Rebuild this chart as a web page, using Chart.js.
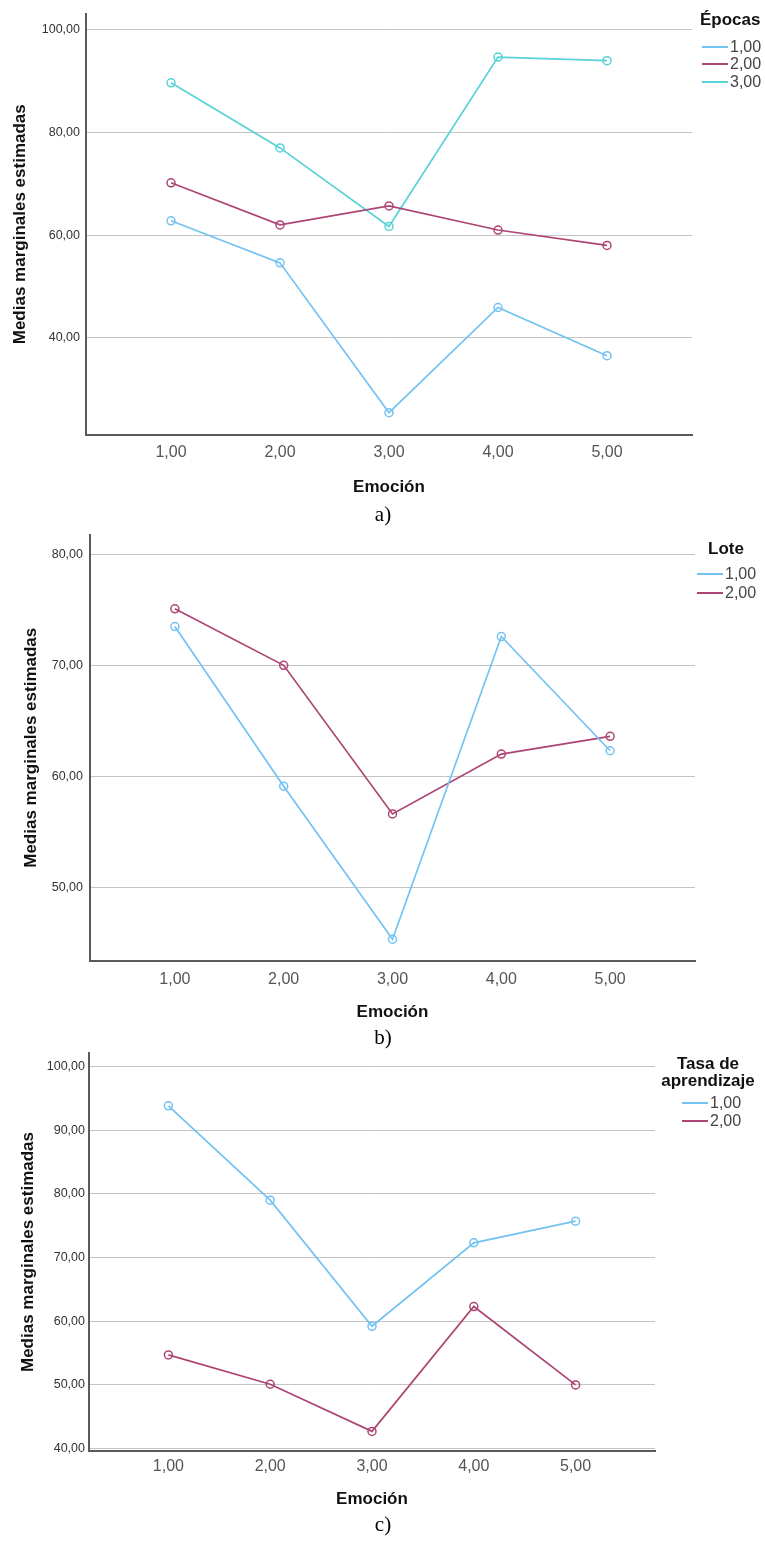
<!DOCTYPE html>
<html>
<head>
<meta charset="utf-8">
<script src="https://cdn.jsdelivr.net/npm/chart.js@4.4.1/dist/chart.umd.min.js"></script>
<style>
    body { margin: 0; background: #fff; width: 765px; height: 1542px; position: relative; overflow: hidden; }
    canvas { position: absolute; left: 0; }
    .legend { position: absolute; font-family: 'Liberation Sans', Arial, sans-serif; color: #444; }
    .legend-title { position: absolute; font-weight: bold; font-size: 17px; color: #111; white-space: nowrap; line-height: 17px; }
    .legend-item { position: absolute; font-size: 16px; white-space: nowrap; line-height: 16px; height: 16px; }
    .legend-line { display: inline-block; width: 26px; height: 2px; vertical-align: middle; margin-right: 2px; position: relative; top: -1px; }
    .caption { position: absolute; font-family: 'Liberation Serif', 'Times New Roman', serif; font-size: 21px; color: #000; width: 40px; margin-left: -20px; text-align: center; }
</style>
</head>
<body>
<canvas id="chartA" width="765" height="505" style="top:0px"></canvas>
<canvas id="chartB" width="765" height="505" style="top:520px"></canvas>
<canvas id="chartC" width="765" height="475" style="top:1040px"></canvas>
<div id="legends"></div>
<div class="caption" style="left:383px; top:502px">a)</div>
<div class="caption" style="left:383px; top:1025px">b)</div>
<div class="caption" style="left:383px; top:1512px">c)</div>

<script>
// Emoción categories (x axis)
var emociones = [1, 2, 3, 4, 5];

// a) Épocas
var epocas1 = [62.8, 54.6, 25.4, 45.9, 36.5];
var epocas2 = [70.2, 62.0, 65.7, 61.0, 58.0];
var epocas3 = [89.7, 77.0, 61.7, 94.7, 94.0];
var yTicksA = [40, 60, 80, 100];

// b) Lote
var lote1 = [73.5, 59.1, 45.3, 72.6, 62.3];
var lote2 = [75.1, 70.0, 56.6, 62.0, 63.6];
var yTicksB = [50, 60, 70, 80];

// c) Tasa de aprendizaje
var tasa1 = [93.8, 79.0, 59.2, 72.3, 75.7];
var tasa2 = [54.7, 50.1, 42.7, 62.3, 50.0];
var yTicksC = [40, 50, 60, 70, 80, 90, 100];

var seriesLabels = ['1,00', '2,00', '3,00'];

// SPSS-like colours
var azul = '#72c2f2';
var granate = '#ad4574';
var cian = '#56d3d8';

function fmt(v) {
    return v.toFixed(2).replace('.', ',');
}

function makeDataset(label, values, color) {
    return {
        label: label,
        data: emociones.map(function (x, i) { return { x: x, y: values[i] }; }),
        borderColor: color,
        borderWidth: 1.7,
        pointRadius: 4,
        pointBorderWidth: 1.5,
        pointBorderColor: color,
        pointBackgroundColor: 'rgba(255,255,255,0)',
        tension: 0
    };
}

// Build one SPSS style profile plot; o holds the layout of that panel
function buildChart(id, datasets, o) {
    var canvas = document.getElementById(id);
    return new Chart(canvas.getContext('2d'), {
        type: 'line',
        data: { datasets: datasets },
        options: {
            responsive: false,
            animation: false,
            layout: { padding: { top: o.padTop, right: o.padRight, left: 0, bottom: 0 } },
            plugins: { legend: { display: false }, tooltip: { enabled: false } },
            scales: {
                x: {
                    type: 'linear',
                    min: 0.22,
                    max: 5.78,
                    afterBuildTicks: function (scale) {
                        scale.ticks = emociones.map(function (v) { return { value: v }; });
                    },
                    afterFit: function (scale) { scale.height = o.axisHeight; },
                    grid: { display: false, drawTicks: false },
                    border: { display: true, color: '#5a5a5a', width: 2 },
                    ticks: {
                        padding: o.tickPadX,
                        color: '#555',
                        font: { family: "'Liberation Sans', Arial, sans-serif", size: 16 },
                        callback: function (v) { return fmt(v); }
                    },
                    title: {
                        display: true,
                        text: 'Emoción',
                        color: '#111',
                        padding: { top: 0, bottom: o.titlePadX },
                        font: { family: "'Liberation Sans', Arial, sans-serif", size: 17, weight: 'bold' }
                    }
                },
                y: {
                    type: 'linear',
                    min: o.yMin,
                    max: o.yMax,
                    afterBuildTicks: function (scale) {
                        scale.ticks = o.yTicks.map(function (v) { return { value: v }; });
                    },
                    afterFit: function (scale) { scale.width = o.axisLeft; },
                    grid: { color: '#c4c4c4', lineWidth: 1, drawTicks: false },
                    border: { display: true, color: '#5a5a5a', width: 2 },
                    ticks: {
                        padding: o.tickPadY,
                        color: '#333',
                        font: { family: "'Liberation Sans', Arial, sans-serif", size: 12.5 },
                        callback: function (v) { return fmt(v); }
                    },
                    title: {
                        display: true,
                        text: 'Medias marginales estimadas',
                        color: '#111',
                        padding: { top: o.titlePadY, bottom: 0 },
                        font: { family: "'Liberation Sans', Arial, sans-serif", size: 17, weight: 'bold' }
                    }
                }
            }
        }
    });
}

buildChart('chartA', [
    makeDataset(seriesLabels[0], epocas1, azul),
    makeDataset(seriesLabels[1], epocas2, granate),
    makeDataset(seriesLabels[2], epocas3, cian)
], { yMin: 21.05, yMax: 103.2, yTicks: yTicksA, padTop: 7, padRight: 73, axisLeft: 86,
     axisHeight: 70, tickPadX: 8, tickPadY: 6, titlePadX: 7, titlePadY: 10 });

buildChart('chartB', [
    makeDataset(seriesLabels[0], lote1, azul),
    makeDataset(seriesLabels[1], lote2, granate)
], { yMin: 43.34, yMax: 81.8, yTicks: yTicksB, padTop: 12, padRight: 70, axisLeft: 90,
     axisHeight: 64, tickPadX: 9, tickPadY: 7, titlePadX: 2, titlePadY: 21 });

buildChart('chartC', [
    makeDataset(seriesLabels[0], tasa1, azul),
    makeDataset(seriesLabels[1], tasa2, granate)
], { yMin: 39.62, yMax: 102.1, yTicks: yTicksC, padTop: 13, padRight: 110, axisLeft: 89,
     axisHeight: 64, tickPadX: 6, tickPadY: 4, titlePadX: 5, titlePadY: 18 });

// Legends (SPSS puts them to the right of the plot)
function addLegend(titleLines, titleLeft, titleTop, centered, items, itemLeft, itemTops) {
    var host = document.getElementById('legends');
    titleLines.forEach(function (line, i) {
        var t = document.createElement('div');
        t.className = 'legend legend-title';
        t.textContent = line;
        t.style.top = (titleTop + i * 17) + 'px';
        if (centered) {
            t.style.left = (titleLeft - 60) + 'px';
            t.style.width = '120px';
            t.style.textAlign = 'center';
        } else {
            t.style.left = titleLeft + 'px';
        }
        host.appendChild(t);
    });
    items.forEach(function (item, i) {
        var d = document.createElement('div');
        d.className = 'legend legend-item';
        d.style.left = itemLeft + 'px';
        d.style.top = (itemTops[i] - 8) + 'px';
        d.innerHTML = '<span class="legend-line" style="background:' + item.color + '"></span>' + item.label;
        host.appendChild(d);
    });
}

addLegend(['Épocas'], 700, 11, false, [
    { label: seriesLabels[0], color: azul },
    { label: seriesLabels[1], color: granate },
    { label: seriesLabels[2], color: cian }
], 702, [47, 64, 82]);

addLegend(['Lote'], 708, 540, false, [
    { label: seriesLabels[0], color: azul },
    { label: seriesLabels[1], color: granate }
], 697, [574, 593]);

addLegend(['Tasa de', 'aprendizaje'], 708, 1055, true, [
    { label: seriesLabels[0], color: azul },
    { label: seriesLabels[1], color: granate }
], 682, [1103, 1121]);
</script>
</body>
</html>
